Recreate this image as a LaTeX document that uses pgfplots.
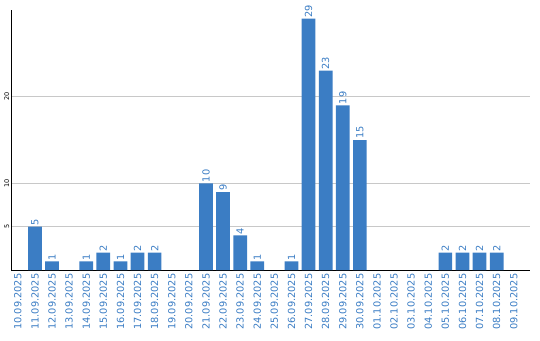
\documentclass[border=0pt]{standalone}
\usepackage{fontspec}
\setmainfont{DejaVu Sans}
\usepackage{pgfplots}
\pgfplotsset{compat=1.18}
\definecolor{barblue}{RGB}{59,125,196}
\definecolor{gridgray}{RGB}{200,200,200}
\begin{document}
\begin{tikzpicture}
\begin{axis}[
  at={(0,0)}, anchor=south west,
  scale only axis,
  width=519pt, height=260pt,
  xmin=-0.4, xmax=29.95,
  ymin=0, ymax=30,
  axis lines*=left,
  axis line style={black, line width=1pt},
  xtick={0,...,29},
  xticklabels={10.09.2025,11.09.2025,12.09.2025,13.09.2025,14.09.2025,15.09.2025,16.09.2025,17.09.2025,18.09.2025,19.09.2025,20.09.2025,21.09.2025,22.09.2025,23.09.2025,24.09.2025,25.09.2025,26.09.2025,27.09.2025,28.09.2025,29.09.2025,30.09.2025,01.10.2025,02.10.2025,03.10.2025,04.10.2025,05.10.2025,06.10.2025,07.10.2025,08.10.2025,09.10.2025},
  x tick label style={rotate=90, anchor=east, font=\fontsize{9.8}{10}\selectfont, text=barblue, inner sep=3.5pt},
  ytick={5,10,20},
  y tick label style={rotate=90, anchor=south, font=\fontsize{6.5}{7}\selectfont, inner sep=1.5pt},
  /pgf/number format/assume math mode=true,
  major tick length=0pt,
  ymajorgrids,
  grid style={gridgray, line width=0.8pt},
  ybar, bar width=13.7pt,
  nodes near coords,
  every node near coord/.append style={rotate=90, anchor=west, font=\fontsize{9.8}{10}\selectfont, text=barblue, inner sep=1pt},
  enlargelimits=false,
  clip=false,
]
\addplot[fill=barblue, draw=none] coordinates {
(1,5) (2,1) (4,1) (5,2) (6,1) (7,2) (8,2)
(11,10) (12,9) (13,4) (14,1) (16,1)
(17,29) (18,23) (19,19) (20,15)
(25,2) (26,2) (27,2) (28,2)
};
\end{axis}
\path[use as bounding box] (-11pt,-70pt) rectangle (529pt,270pt);
\end{tikzpicture}
\end{document}
